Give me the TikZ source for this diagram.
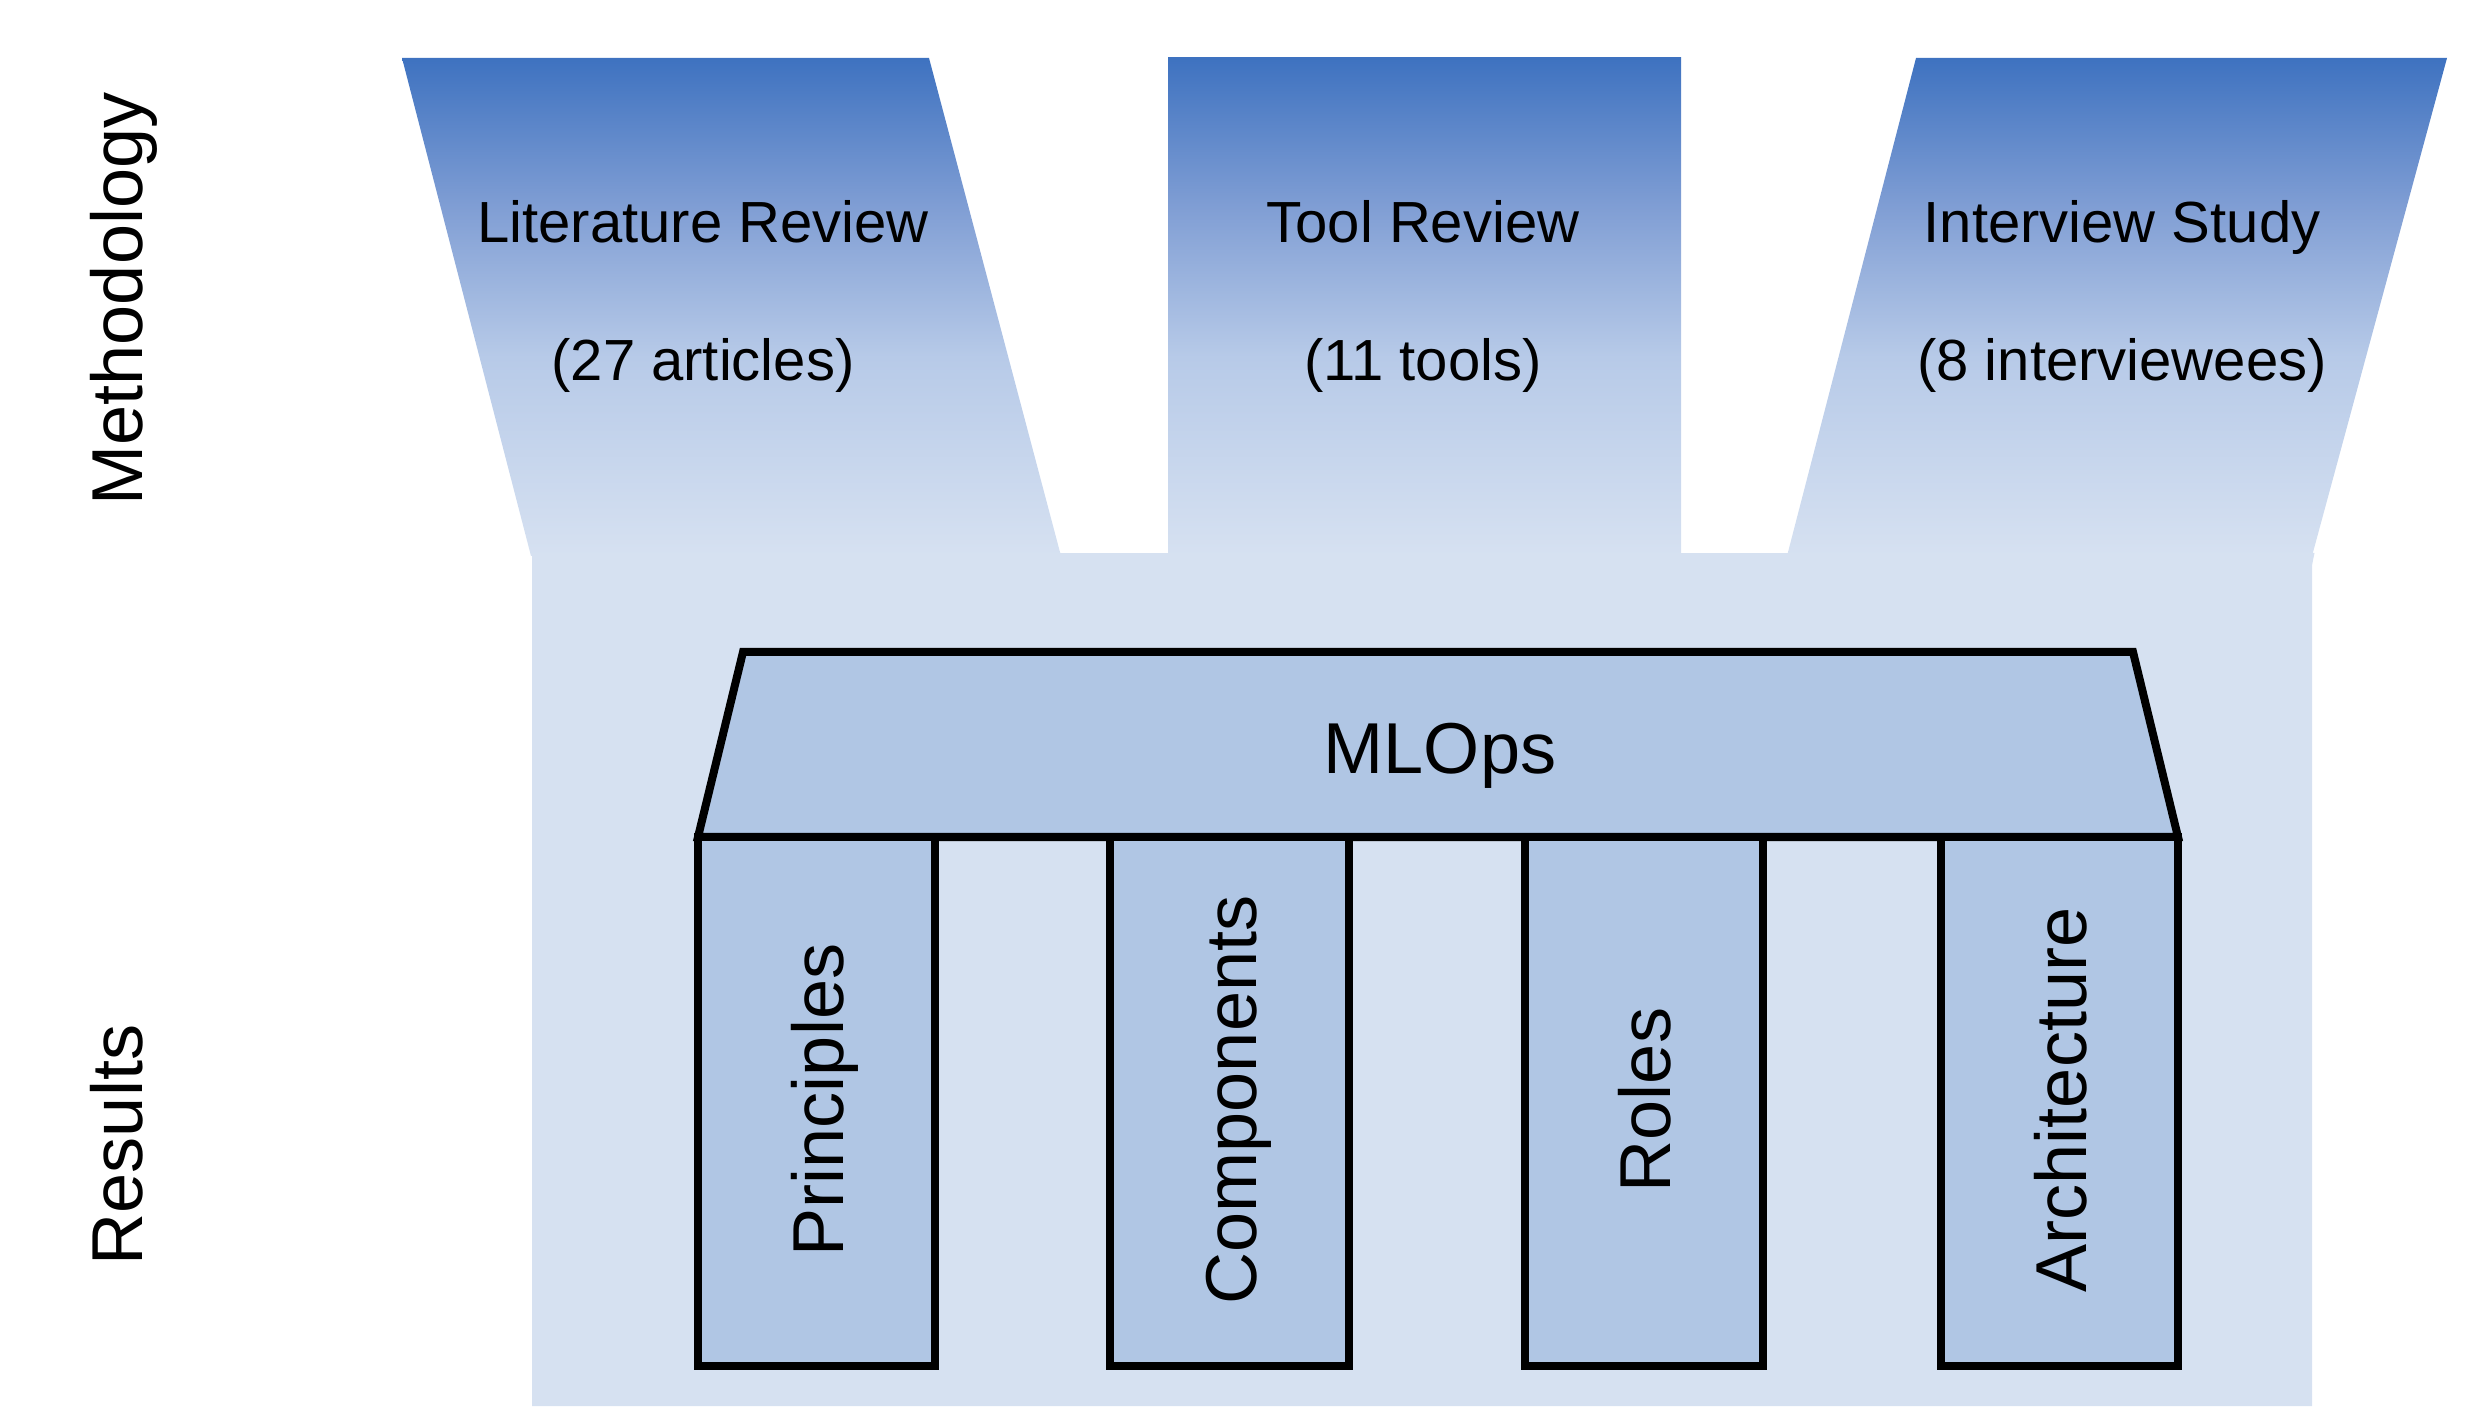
\documentclass[tikz,border=0pt]{standalone}
\usepackage{fontspec}
\setmainfont{Liberation Sans}
\definecolor{gradtop}{RGB}{62,114,192}
\definecolor{gradmidA}{RGB}{128,158,212}
\definecolor{gradmidB}{RGB}{183,202,232}
\definecolor{bglight}{RGB}{214,225,241}
\definecolor{pillarfill}{RGB}{176,198,228}
\pgfdeclareverticalshading{funnelshade}{100bp}{color(0bp)=(bglight); color(25bp)=(bglight); color(45bp)=(gradmidB); color(60bp)=(gradmidA); color(75bp)=(gradtop); color(100bp)=(gradtop)}
\begin{document}
\begin{tikzpicture}[x=0.01cm,y=-0.01cm,
  funnel/.style={shading=funnelshade},
  boxline/.style={draw=black,line width=0.08cm,fill=pillarfill,line join=miter},
  smalltext/.style={font=\fontsize{16.5}{20}\selectfont,anchor=base,inner sep=0pt},
  bigtext/.style={font=\fontsize{20.5}{24}\selectfont,anchor=base,inner sep=0pt},
  sidetext/.style={font=\fontsize{20.5}{24}\selectfont,anchor=base,inner sep=0pt,rotate=90},
  pillartext/.style={font=\fontsize{20.5}{24}\selectfont,anchor=base,inner sep=0pt,rotate=90}]
\useasboundingbox (0,0) rectangle (2475,1422);
% methodology funnels
\shade[funnel] (402,58) -- (929,58) -- (1061,556) -- (531,556) -- cycle;
\shade[funnel] (1168,58) -- (1681,58) -- (1681,556) -- (1168,556) -- cycle;
\shade[funnel] (1916,58) -- (2447,58) -- (2312,556) -- (1787,556) -- cycle;
% results background
\fill[bglight] (532,553) -- (1061,553) -- (1061,556) -- (2312,556) -- (2312,1406) -- (532,1406) -- cycle;
\fill[bglight] (532,553) rectangle (2312,1406);
\fill[bglight] (2312,553) -- (2314.5,553) -- (2312,565) -- cycle;
% texts of methodology
\node[smalltext] (lit) at (703,243) {Literature Review};
\node[smalltext] (litn) at (703,381) {(27 articles)};
\node[smalltext] (tool) at (1423,243) {Tool Review};
\node[smalltext] (tooln) at (1423,381) {(11 tools)};
\node[smalltext] (int) at (2122,243) {Interview Study};
\node[smalltext] (intn) at (2122,381) {(8 interviewees)};
% side labels
\node[sidetext] (meth) at (142,299) {Methodology};
\node[sidetext] (res) at (142,1145) {Results};
% MLOps roof
\draw[boxline] (743,652) -- (2133,652) -- (2178,837) -- (698,837) -- cycle;
\node[bigtext] (mlops) at (1440,774) {MLOps};
% pillars
\draw[boxline] (698,837) rectangle (935,1366);
\draw[boxline] (1110,837) rectangle (1349,1366);
\draw[boxline] (1525,837) rectangle (1763,1366);
\draw[boxline] (1941,837) rectangle (2178,1366);
\node[pillartext] (p1) at (843,1100) {Principles};
\node[pillartext] (p2) at (1256,1100) {Components};
\node[pillartext] (p3) at (1670,1100) {Roles};
\node[pillartext] (p4) at (2086,1100) {Architecture};
\end{tikzpicture}
\end{document}
